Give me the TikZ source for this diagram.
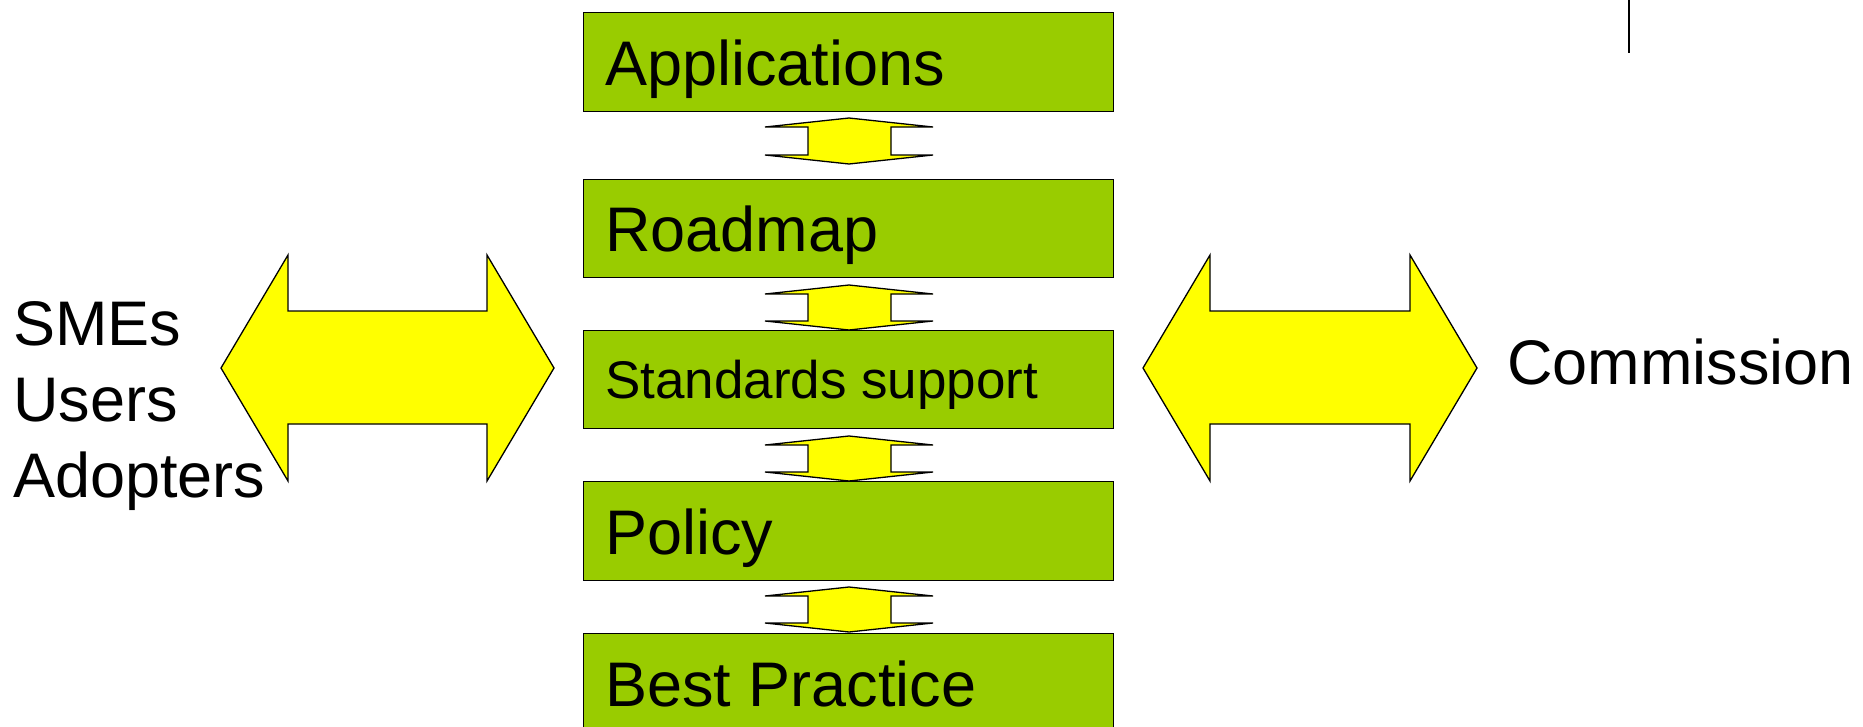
\documentclass[tikz,border=0pt]{standalone}
\usepackage{fontspec}
\setmainfont{Liberation Sans}
\definecolor{boxgreen}{HTML}{99CC00}
\definecolor{arrowyellow}{HTML}{FFFF00}
\tikzset{
  layerbox/.style={draw=black, fill=boxgreen, line width=1.4pt, minimum width=530pt, inner sep=0pt, anchor=north west},
  bigtext/.style={anchor=base west, inner sep=0pt, font=\fontsize{63}{75}\selectfont},
  midtext/.style={anchor=base west, inner sep=0pt, font=\fontsize{53}{63}\selectfont},
  yarrow/.style={draw=black, fill=arrowyellow, line width=1.3pt, line join=miter},
}
\newcommand\vdoublearrow[2]{%
  \filldraw[yarrow] (849,#1) -- (933,{#1+9}) -- (891,{#1+9}) -- (891,{#2-9}) -- (933,{#2-9}) -- (849,#2)
    -- (765,{#2-9}) -- (808,{#2-9}) -- (808,{#1+9}) -- (765,{#1+9}) -- cycle;}
\begin{document}
\begin{tikzpicture}[x=1pt,y=-1pt]
\useasboundingbox (0,0) rectangle (1863,726);
% layer boxes
\node[layerbox, minimum height=99pt] (app) at (583,12) {};
\node[layerbox, minimum height=98pt] (road) at (583,179) {};
\node[layerbox, minimum height=98pt] (std) at (583,330) {};
\node[layerbox, minimum height=99pt] (pol) at (583,481) {};
\node[layerbox, minimum height=110pt] (best) at (583,633) {};
% box texts
\node[bigtext] (tapp) at (605,85) {Applications};
\node[bigtext] (troad) at (605,251) {Roadmap};
\node[midtext] (tstd) at (605,398) {Standards support};
\node[bigtext] (tpol) at (605,554) {Policy};
\node[bigtext] (tbest) at (605,706) {Best Practice};
% small double arrows between boxes
\vdoublearrow{118}{164}
\vdoublearrow{285}{330}
\vdoublearrow{436}{481}
\vdoublearrow{587}{632}
% big double arrows
\filldraw[yarrow] (221,368) -- (288,255) -- (288,311) -- (487,311) -- (487,255) -- (554,368)
  -- (487,481) -- (487,424) -- (288,424) -- (288,481) -- cycle;
\filldraw[yarrow] (1143,368) -- (1210,255) -- (1210,311) -- (1410,311) -- (1410,255) -- (1477,368)
  -- (1410,481) -- (1410,424) -- (1210,424) -- (1210,481) -- cycle;
% side labels
\node[bigtext] (smes) at (13,345) {SMEs};
\node[bigtext] (users) at (13,421) {Users};
\node[bigtext] (adopt) at (13,497) {Adopters};
\node[bigtext] (comm) at (1507,384) {Commission};
% top-right line
\coordinate (lt) at (1629,0);
\coordinate (lb) at (1629,53);
\draw[line width=1.4pt] (lt) -- (lb);
\end{tikzpicture}
\end{document}
